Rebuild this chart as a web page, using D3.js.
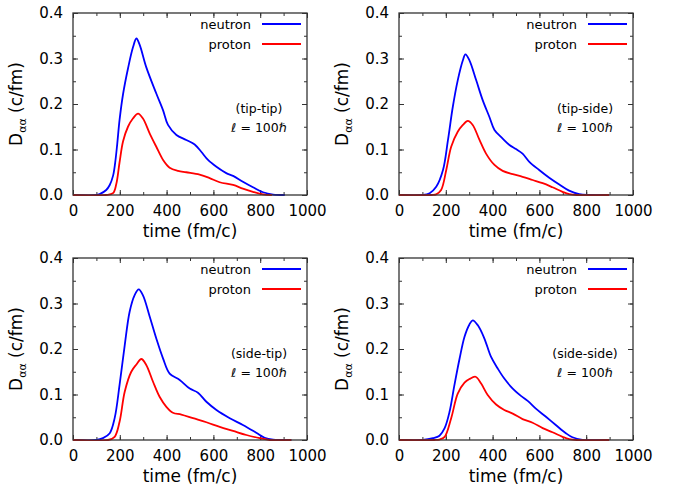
<!DOCTYPE html>
<html>
<head>
<meta charset="utf-8">
<script src="https://cdn.jsdelivr.net/npm/d3@7"></script>
<style>
  body { margin: 0; background: #fff; }
  text { font-family: "DejaVu Sans", sans-serif; fill: #000; }
</style>
</head>
<body>
<svg id="chart" width="676" height="491"></svg>
<script>
// data: [time (fm/c), D (c/fm)]
const tipTipNeutron = [[0,0],[100,0],[114,0.002],[142,0.011],[157,0.022],[171,0.042],[180,0.07],[189,0.112],[199,0.165],[214,0.222],[235,0.278],[256,0.324],[271,0.344],[285,0.33],[313,0.281],[356,0.223],[385,0.186],[406,0.154],[442,0.132],[484,0.121],[520,0.111],[548,0.095],[577,0.077],[613,0.062],[655,0.048],[684,0.042],[726,0.029],[769,0.017],[812,0.006],[855,0.001],[905,0]];
const tipTipProton = [[0,0],[140,0],[171,0.004],[185,0.024],[199,0.072],[214,0.118],[235,0.15],[256,0.168],[278,0.179],[299,0.168],[328,0.135],[356,0.106],[385,0.077],[413,0.06],[449,0.053],[484,0.05],[541,0.045],[584,0.037],[627,0.028],[684,0.022],[726,0.014],[769,0.007],[812,0.0015],[850,0]];

const tipSideNeutron = [[0,0],[102,0],[131,0.004],[159,0.018],[188,0.055],[209,0.12],[230,0.194],[251,0.252],[273,0.296],[284,0.309],[301,0.296],[330,0.252],[358,0.208],[386,0.172],[408,0.143],[443,0.124],[472,0.11],[500,0.101],[528,0.091],[557,0.073],[599,0.055],[642,0.038],[685,0.023],[727,0.0095],[770,0.002],[812,0],[898,0]];
const tipSideProton = [[0,0],[140,0],[159,0.0015],[180,0.011],[202,0.055],[223,0.106],[251,0.139],[273,0.154],[294,0.163],[315,0.154],[344,0.121],[372,0.091],[408,0.066],[443,0.053],[486,0.046],[528,0.04],[571,0.033],[614,0.026],[656,0.017],[699,0.007],[727,0.002],[760,0],[898,0]];

const sideTipNeutron = [[0,0],[100,0],[128,0.004],[157,0.015],[178,0.048],[199,0.121],[221,0.208],[242,0.282],[263,0.318],[281,0.331],[299,0.318],[328,0.271],[356,0.223],[385,0.179],[413,0.146],[456,0.132],[499,0.113],[534,0.104],[570,0.084],[613,0.066],[670,0.048],[726,0.033],[783,0.016],[819,0.005],[855,0.001],[933,0]];
const sideTipProton = [[0,0],[150,0],[178,0.007],[199,0.04],[221,0.106],[249,0.15],[271,0.166],[292,0.178],[313,0.165],[342,0.128],[370,0.095],[399,0.073],[427,0.06],[463,0.056],[513,0.048],[570,0.039],[627,0.029],[684,0.02],[741,0.011],[798,0.004],[840,0],[933,0]];

const sideSideNeutron = [[0,0],[102,0],[145,0.004],[173,0.0095],[195,0.026],[216,0.062],[237,0.121],[259,0.179],[280,0.227],[301,0.254],[315,0.263],[337,0.252],[365,0.223],[393,0.183],[422,0.157],[450,0.135],[486,0.113],[521,0.097],[550,0.086],[585,0.069],[628,0.051],[670,0.033],[713,0.015],[741,0.006],[784,0.0005],[898,0]];
const sideSideProton = [[0,0],[150,0],[173,0.001],[195,0.007],[223,0.048],[251,0.102],[280,0.126],[301,0.134],[327,0.139],[351,0.124],[379,0.099],[415,0.078],[450,0.066],[486,0.058],[528,0.046],[571,0.038],[614,0.026],[656,0.017],[699,0.007],[727,0.002],[760,0],[898,0]];

const panelTags = ["(tip-tip)", "(tip-side)", "(side-tip)", "(side-side)"];
const neutronSeries = [tipTipNeutron, tipSideNeutron, sideTipNeutron, sideSideNeutron];
const protonSeries = [tipTipProton, tipSideProton, sideTipProton, sideSideProton];
const xTicks = [0, 200, 400, 600, 800, 1000];
const yTicks = [0, 0.1, 0.2, 0.3, 0.4];

const svg = d3.select("#chart");
const pw = 234, ph = 182;
const origins = [[73, 13], [399, 13], [73, 258], [399, 258]];

const x = d3.scaleLinear().domain([0, 1000]).range([0, pw]);
const y = d3.scaleLinear().domain([0, 0.4]).range([ph, 0]);
const line = d3.line().x(d => x(d[0])).y(d => y(Math.max(0, d[1]))).curve(d3.curveCatmullRom.alpha(0.5));

origins.forEach((o, i) => {
  const g = svg.append("g").attr("transform", `translate(${o[0]},${o[1]})`);

  // inward ticks on all four sides
  const minorX = d3.range(0, 1001, 100), minorY = d3.range(0, 0.4001, 0.05);
  g.append("g").call(d3.axisBottom(x).tickValues(minorX).tickSize(-3).tickFormat(""))
    .attr("transform", `translate(0,${ph})`);
  g.append("g").call(d3.axisBottom(x).tickValues(xTicks).tickSize(-5).tickPadding(10).tickFormat(d3.format("d")))
    .attr("transform", `translate(0,${ph})`);
  g.append("g").call(d3.axisTop(x).tickValues(minorX).tickSize(-3).tickFormat(""));
  g.append("g").call(d3.axisTop(x).tickValues(xTicks).tickSize(-5).tickFormat(""));
  g.append("g").call(d3.axisLeft(y).tickValues(minorY).tickSize(-3).tickFormat(""));
  g.append("g").call(d3.axisLeft(y).tickValues(yTicks).tickSize(-5).tickPadding(10).tickFormat(d3.format(".1f")));
  g.append("g").call(d3.axisRight(y).tickValues(minorY).tickSize(-3).tickFormat(""))
    .attr("transform", `translate(${pw},0)`);
  g.append("g").call(d3.axisRight(y).tickValues(yTicks).tickSize(-5).tickFormat(""))
    .attr("transform", `translate(${pw},0)`);
  g.selectAll(".domain").remove();
  g.selectAll(".tick line").attr("stroke", "#333").attr("stroke-width", 1);
  g.selectAll(".tick text").style("font-size", "15px").style("font-family", "DejaVu Sans");

  // clip so the spline stays inside the frame
  const clipId = "clip" + i;
  g.append("clipPath").attr("id", clipId).append("rect").attr("width", pw).attr("height", ph + 1);
  const lines = g.append("g").attr("clip-path", `url(#${clipId})`);
  lines.append("path").datum(neutronSeries[i]).attr("d", line)
    .attr("fill", "none").attr("stroke", "#0000ff").attr("stroke-width", 1.8);
  lines.append("path").datum(protonSeries[i]).attr("d", line)
    .attr("fill", "none").attr("stroke", "#ff0000").attr("stroke-width", 1.8);

  g.append("rect").attr("width", pw).attr("height", ph)
    .attr("fill", "none").attr("stroke", "#333").attr("stroke-width", 1.3);

  // legend
  [["neutron", "#0000ff", 11], ["proton", "#ff0000", 31]].forEach(l => {
    g.append("text").attr("x", pw - 56).attr("y", l[2]).attr("dy", "0.35em")
      .attr("text-anchor", "end").style("font-size", "13px").text(l[0]);
    g.append("line").attr("x1", pw - 45).attr("x2", pw - 6).attr("y1", l[2]).attr("y2", l[2])
      .attr("stroke", l[1]).attr("stroke-width", 1.8);
  });

  g.append("text").attr("x", pw - 48).attr("y", 100).attr("text-anchor", "middle")
    .style("font-size", "12.5px").text(panelTags[i]);
  g.append("text").attr("x", pw - 48).attr("y", 119).attr("text-anchor", "middle")
    .style("font-size", "12.5px").text("ℓ = 100ℏ");

  g.append("text").attr("x", pw / 2).attr("y", ph + 42).attr("text-anchor", "middle")
    .style("font-size", "17px").text("time (fm/c)");

  const yl = g.append("text").attr("transform", `translate(-51,${ph / 2}) rotate(-90)`)
    .attr("text-anchor", "middle").style("font-size", "17px");
  yl.append("tspan").text("D");
  yl.append("tspan").attr("dy", 4).style("font-size", "11px").text("αα");
  yl.append("tspan").attr("dy", -4).text(" (c/fm)");
});
</script>
</body>
</html>
